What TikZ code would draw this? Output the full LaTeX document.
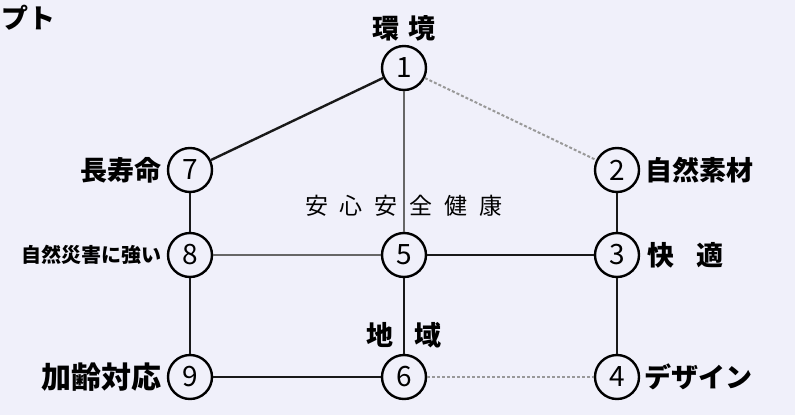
\documentclass[tikz,border=0pt]{standalone}
\usepackage{fontspec}
\usepackage{xcolor}
\newfontfamily\jpfont{Noto Sans CJK JP}
\usetikzlibrary{shapes,arrows,positioning}
\definecolor{paper}{RGB}{240,240,250}

\begin{document}
\begin{tikzpicture}[x=1pt, y=-1pt, node distance=3pt]
    % Define styles
    \tikzstyle{num} = [circle, draw=black, line width=2.4pt, minimum size=44pt, inner sep=0pt, fill=paper, font=\jpfont\fontsize{28}{28}\selectfont]
    \tikzstyle{keyword} = [inner sep=1pt, font=\jpfont\bfseries\fontsize{27}{27}\selectfont]
    \tikzstyle{link} = [line width=2.4pt, draw=black!90]
    \tikzstyle{greylink} = [line width=2.6pt, draw=black!60]
    \tikzstyle{faint} = [line width=2pt, draw=black!40, densely dashed]

    % Background
    \fill[paper] (0,0) rectangle (795,415);
    \useasboundingbox (0,0) rectangle (795,415);
    \clip (0,0) rectangle (795,415);

    % Nodes
    \node[keyword, anchor=west] (title) at (0,18) {プト};
    \node[num] (env) at (404,68) {1};
    \node[num] (nat_mat) at (617,170) {2};
    \node[num] (comfort) at (617,255) {3};
    \node[num] (design) at (617,377) {4};
    \node[num] (safety) at (404,255) {5};
    \node[num] (region) at (404,377) {6};
    \node[num] (longlife) at (190,170) {7};
    \node[num] (disaster) at (190,255) {8};
    \node[num] (aging) at (190,377) {9};

    \node[keyword, above=2pt of env] (env_txt) {環\hspace{10pt}境};
    \node[keyword, right=4pt of nat_mat] (nat_mat_txt) {自然素材};
    \node[keyword, right=6pt of comfort] (comfort_txt) {快\hspace{22pt}適};
    \node[keyword, right=3pt of design] (design_txt) {デザイン};
    \node[keyword, above=14pt of safety, font=\jpfont\fontsize{23}{23}\selectfont] (safety_txt) {安\hspace{12pt}心\hspace{12pt}安\hspace{12pt}全\hspace{12pt}健\hspace{12pt}康};
    \node[keyword, above=5pt of region] (region_txt) {地\hspace{22pt}域};
    \node[keyword, left=4pt of longlife] (longlife_txt) {長寿命};
    \node[keyword, left=4pt of disaster, font=\jpfont\bfseries\fontsize{20}{20}\selectfont] (disaster_txt) {自然災害に強い};
    \node[keyword, left=4pt of aging, font=\jpfont\bfseries\fontsize{30}{30}\selectfont] (aging_txt) {加齢対応};

    % Connections
    \draw[link] (env) -- (longlife);
    \draw[faint] (env) -- (nat_mat);
    \draw[greylink] (env) -- (safety);
    \draw[link] (longlife) -- (disaster);
    \draw[link] (nat_mat) -- (comfort);
    \draw[greylink] (disaster) -- (safety);
    \draw[link] (safety) -- (comfort);
    \draw[link] (safety) -- (region);
    \draw[link] (comfort) -- (design);
    \draw[link] (disaster) -- (aging);
    \draw[link] (aging) -- (region);
    \draw[faint] (region) -- (design);
\end{tikzpicture}
\end{document}
